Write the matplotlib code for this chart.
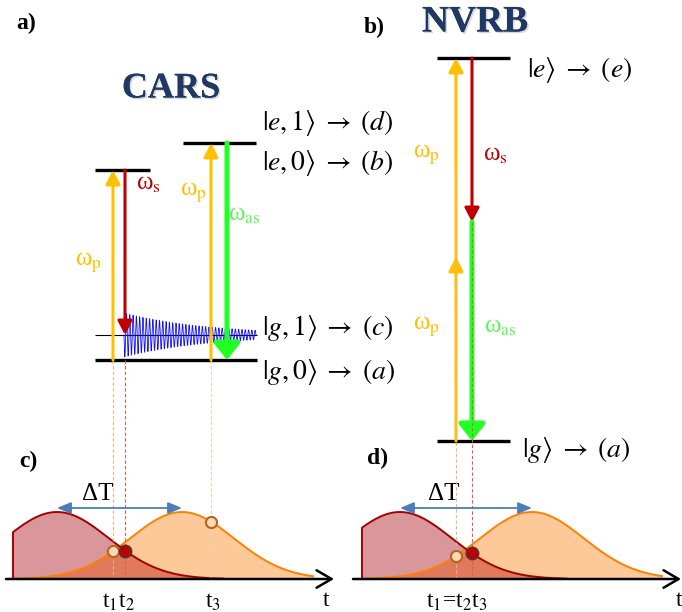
import matplotlib
matplotlib.use('Agg')
import matplotlib.pyplot as plt
import matplotlib.patheffects as pe
import numpy as np

plt.rcParams['font.family'] = ['Liberation Serif', 'DejaVu Serif']
plt.rcParams['mathtext.fontset'] = 'stix'

# %% diagram data (pixel frame of the figure, y grows downward)
# CARS levels: (x_start, x_end, y)
cars_virtual = [(95, 150, 170), (183, 256, 143)]
cars_g1 = (95, 257, 335)
cars_g0 = (95, 257, 360)
cars_kets = [r'$|e,1\rangle\;\rightarrow\;(d)$', r'$|e,0\rangle\;\rightarrow\;(b)$',
             r'$|g,1\rangle\;\rightarrow\;(c)$', r'$|g,0\rangle\;\rightarrow\;(a)$']
cars_ket_y = [123, 163, 328, 372]
# times of the three interactions (pulse panel c), also arrow positions in a)
cars_t = [113, 125, 211]

nvrb_levels = [(437, 510, 58), (437, 510, 441)]
nvrb_kets = [r'$|e\rangle\;\rightarrow\;(e)$', r'$|g\rangle\;\rightarrow\;(a)$']
nvrb_t = [456, 472]

# vibrational coherence (blue wave)
wave_start, wave_end = 124, 256
wave_amp, wave_decay, wave_period = 22, 85, 3.3

# pulses: axis height, peak height, width, pump/Stokes centres, pulse start/end
axis_y = 579
pulse_h, pulse_w = 67, 52
c_red, c_orange = 57, 182
c_start, c_end = 13, 313
d_red, d_orange = 400, 532
d_start, d_end = 362, 662

YEL = '#FFC000'
RED = '#C00000'
GRN = '#22FF22'
GRN_TXT = '#5EF55E'
NAVY = '#1F3864'
RED_FILL = '#D9969B'
OR_FILL = '#FDC998'
OV_FILL = '#DF7A5C'
RED_EDGE = '#A50000'
OR_EDGE = '#FF8000'

W, H = 682, 612
fig = plt.figure(figsize=(W / 100, H / 100), dpi=100)
ax = fig.add_axes([0, 0, 1, 1])
ax.set_xlim(0, W)
ax.set_ylim(H, 0)
ax.axis('off')


def level(x0, x1, y, lw=2.4):
    ax.plot([x0, x1], [y, y], color='black', lw=lw, solid_capstyle='butt', zorder=2)


def arrow(x, y0, y1, color, lw=2.2, hw=0.22, hl=0.42, ms=20, z=3):
    ax.annotate('', xy=(x, y1), xytext=(x, y0),
                arrowprops=dict(arrowstyle=f'-|>,head_width={hw},head_length={hl}',
                                color=color, lw=lw, shrinkA=0, shrinkB=0,
                                mutation_scale=ms), zorder=z)


def dashed(x, y0, y1, color):
    ax.plot([x, x], [y0, y1], color=color, lw=0.8, ls=(0, (3, 2)), zorder=4)


def omega(x, y, sub, color):
    ax.text(x, y, 'ω$_{\\mathrm{' + sub + '}}$', color=color, fontsize=18,
            ha='center', va='center')


def shadowed(x, y, s, size):
    ax.text(x, y, s, fontsize=size, fontweight='bold', color=NAVY, ha='center',
            va='center', path_effects=[pe.withSimplePatchShadow(offset=(1.2, -1.2),
                                                                 shadow_rgbFace='gray', alpha=0.3),
                                       pe.Normal()])


# %% panel a) CARS
ax.text(26, 23, 'a)', fontsize=17, fontweight='bold', ha='center', va='center')
shadowed(171, 89, 'CARS', 26)
for x0, x1, y in cars_virtual:
    level(x0, x1, y)
level(*cars_g0)
level(*cars_g1, lw=0.8)
for s, y in zip(cars_kets, cars_ket_y):
    ax.text(262, y, s, fontsize=20, ha='left', va='center')

t1, t2, t3 = cars_t
arrow(t1, cars_g0[2], cars_virtual[0][2], YEL)
arrow(t2, cars_virtual[0][2], cars_g1[2], RED)
arrow(t3, cars_g0[2], cars_virtual[1][2], YEL)
arrow(227, cars_virtual[1][2], cars_g0[2], GRN, lw=3.6, hw=0.33, hl=0.42, ms=24)
omega(89, 263, 'p', YEL)
omega(148, 184, 's', RED)
omega(194, 193, 'p', YEL)
omega(244, 215, 'as', GRN_TXT)

wx = np.linspace(wave_start, wave_end, 3000)
wy = cars_g1[2] + wave_amp * np.exp(-(wx - wave_start) / wave_decay) * \
    np.sin(2 * np.pi * (wx - wave_start) / wave_period)
ax.plot(wx, wy, color='#1010FF', lw=0.6, zorder=2.5)

# %% panel b) NVRB
ax.text(374, 27, 'b)', fontsize=17, fontweight='bold', ha='center', va='center')
shadowed(475, 22, 'NVRB', 27)
for x0, x1, y in nvrb_levels:
    level(x0, x1, y)
ax.text(527, 70, nvrb_kets[0], fontsize=20, ha='left', va='center')
ax.text(522, 450, nvrb_kets[1], fontsize=20, ha='left', va='center')
ytop, ybot = nvrb_levels[0][2], nvrb_levels[1][2]
ymid = 257
ymid_s = 222
arrow(nvrb_t[0], ybot, ymid, YEL)
arrow(nvrb_t[0], ymid + 8, ytop, YEL)
arrow(nvrb_t[1], ytop, ymid_s, RED)
arrow(nvrb_t[1], ymid_s, ybot, GRN, lw=3.6, hw=0.33, hl=0.42, ms=24)
omega(427, 155, 'p', YEL)
omega(495, 155, 's', RED)
omega(427, 327, 'p', YEL)
omega(500, 327, 'as', GRN_TXT)


# %% pulses c) and d)
def pulse(t, c):
    return pulse_h * np.exp(-(t - c) ** 2 / (2 * pulse_w ** 2))


def pulse_panel(start, end, cr, co, xa0, xa1):
    tr = np.linspace(start, cr + 3.2 * pulse_w, 400)
    to = np.linspace(co - 3.2 * pulse_w, end, 400)
    pr, po = pulse(tr, cr), pulse(to, co)
    ax.fill_between(to, axis_y, axis_y - po, color=OR_FILL, lw=0, zorder=1)
    ax.fill_between(tr, axis_y, axis_y - pr, color=RED_FILL, lw=0, zorder=1)
    tov = np.linspace(max(start, to[0]), tr[-1], 400)
    ax.fill_between(tov, axis_y, axis_y - np.minimum(pulse(tov, cr), pulse(tov, co)),
                    color=OV_FILL, lw=0, zorder=1.1)
    ax.plot(to, axis_y - po, color=OR_EDGE, lw=1.4, zorder=1.5)
    ax.plot(np.r_[start, tr], np.r_[axis_y, axis_y - pr], color=RED_EDGE, lw=1.4, zorder=1.6)
    ax.annotate('', xy=(xa1, axis_y), xytext=(xa0, axis_y),
                arrowprops=dict(arrowstyle='->,head_width=0.35,head_length=0.6',
                                color='black', lw=1.8, shrinkA=0, shrinkB=0,
                                mutation_scale=18), zorder=5)
    ax.annotate('', xy=(co, 508), xytext=(cr, 508),
                arrowprops=dict(arrowstyle='<|-|>,head_width=0.25,head_length=0.6',
                                color='#4A7EBB', lw=1.3, shrinkA=0, shrinkB=0,
                                mutation_scale=14), zorder=5)
    ax.text((cr + co) / 2 - 22, 494, 'ΔT', fontsize=18, ha='center', va='center')


def open_dot(t, c):
    ax.plot(t, axis_y - pulse(t, c), 'o', ms=8, mfc='#FDD9B5', mec='#B5651D', mew=1.5, zorder=6)


def red_dot(t, c):
    ax.plot(t, axis_y - pulse(t, c), 'o', ms=8.5, mfc=RED, mec='#6B2A2A', mew=1.5, zorder=6)


ax.text(28, 461, 'c)', fontsize=17, fontweight='bold', ha='center', va='center')
pulse_panel(c_start, c_end, c_red, c_orange, 6, 334)
dashed(t1, cars_g0[2], axis_y, '#F4B183')
dashed(t2, cars_g0[2], axis_y, '#E05A5A')
dashed(t3, cars_g0[2], axis_y, '#F8CBAD')
open_dot(t1, c_orange)
red_dot(t2, c_red)
open_dot(t3, c_orange)
ax.text(119, 602, 't$_1$t$_2$', fontsize=17, ha='center', va='center')
ax.text(213, 602, 't$_3$', fontsize=17, ha='center', va='center')
ax.text(326, 600, 't', fontsize=17, ha='center', va='center')

ax.text(378, 458, 'd)', fontsize=17, fontweight='bold', ha='center', va='center')
pulse_panel(d_start, d_end, d_red, d_orange, 353, 681)
dashed(nvrb_t[0], 170, axis_y, '#F4B183')
dashed(nvrb_t[1], ymid_s, axis_y, '#E05A5A')
open_dot(nvrb_t[0], d_orange)
red_dot(nvrb_t[1], d_red)
ax.text(457, 602, 't$_1$=t$_2$t$_3$', fontsize=17, ha='center', va='center')
ax.text(679, 600, 't', fontsize=17, ha='center', va='center')

fig.savefig('out.png', dpi=100)
